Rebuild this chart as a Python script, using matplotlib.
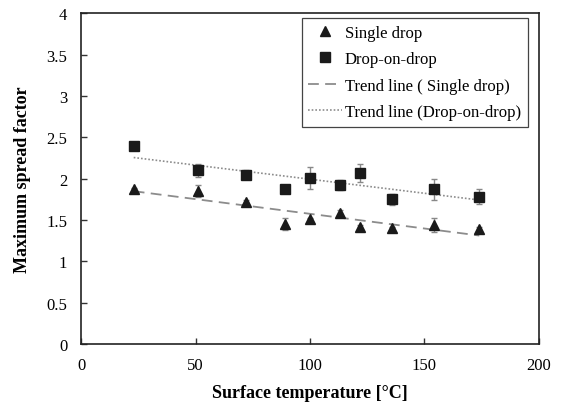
import numpy as np
import matplotlib
matplotlib.use('Agg')
import matplotlib.pyplot as plt

plt.rcParams['font.family'] = ['Liberation Serif', 'DejaVu Serif']

# surface temperature (deg C)
temp = [23, 51, 72, 89, 100, 113, 122, 136, 154, 174]

single = [1.87, 1.85, 1.72, 1.45, 1.51, 1.58, 1.42, 1.40, 1.44, 1.39]
single_err = [0.02, 0.07, 0.02, 0.07, 0.02, 0.04, 0.02, 0.02, 0.08, 0.02]

dod = [2.39, 2.10, 2.05, 1.88, 2.01, 1.92, 2.07, 1.75, 1.87, 1.78]
dod_err = [0.02, 0.08, 0.05, 0.02, 0.13, 0.06, 0.11, 0.07, 0.13, 0.09]

fig = plt.figure(figsize=(5.63, 4.06), dpi=100)
ax = fig.add_axes([0.144, 0.150, 0.813, 0.815])

ax.errorbar(temp, single, yerr=single_err, fmt='none', ecolor='#888888',
            elinewidth=1, capsize=2.5, capthick=1, zorder=2)
ax.errorbar(temp, dod, yerr=dod_err, fmt='none', ecolor='#888888',
            elinewidth=1, capsize=2.5, capthick=1, zorder=2)
ax.plot(temp, single, '^', color='#1a1a1a', ms=7.5, ls='none',
        label='Single drop', zorder=3)
ax.plot(temp, dod, 's', color='#1a1a1a', ms=6.5, ls='none',
        label='Drop-on-drop', zorder=3)

# linear trend lines
xs = np.array([temp[0], temp[-1]])
p1 = np.polyfit(temp, single, 1)
p2 = np.polyfit(temp, dod, 1)
ax.plot(xs, np.polyval(p1, xs), color='#8c8c8c', lw=1.3, ls=(0, (6, 3.5)),
        label='Trend line ( Single drop)', zorder=1)
ax.plot(xs, np.polyval(p2, xs), color='#8c8c8c', lw=1.2, ls=(0, (1, 1.2)),
        label='Trend line (Drop-on-drop)', zorder=1)

ax.set_xlim(0, 200)
ax.set_ylim(0, 4)
ax.set_xticks([0, 50, 100, 150, 200])
ax.set_yticks([0, 0.5, 1, 1.5, 2, 2.5, 3, 3.5, 4])
ax.set_yticklabels(['0', '0.5', '1', '1.5', '2', '2.5', '3', '3.5', '4'])
ax.tick_params(direction='in', length=4, labelsize=12, width=1,
               color='#333333')
ax.tick_params(axis='y', pad=10)
ax.tick_params(axis='x', pad=9)
for s in ax.spines.values():
    s.set_linewidth(1.2)
    s.set_color('#222222')

ax.set_xlabel('Surface temperature [°C]', fontsize=13, fontweight='bold',
              labelpad=8)
ax.set_ylabel('Maximum spread factor', fontsize=13, fontweight='bold',
              labelpad=11)

leg = ax.legend(loc='upper right', bbox_to_anchor=(0.976, 0.985),
                borderaxespad=0, fancybox=False, fontsize=12,
                handlelength=2.0, labelspacing=0.62, edgecolor='#444444',
                framealpha=1, borderpad=0.4, handletextpad=0.2)
leg.get_frame().set_linewidth(0.9)

fig.savefig('out.png', dpi=100)
